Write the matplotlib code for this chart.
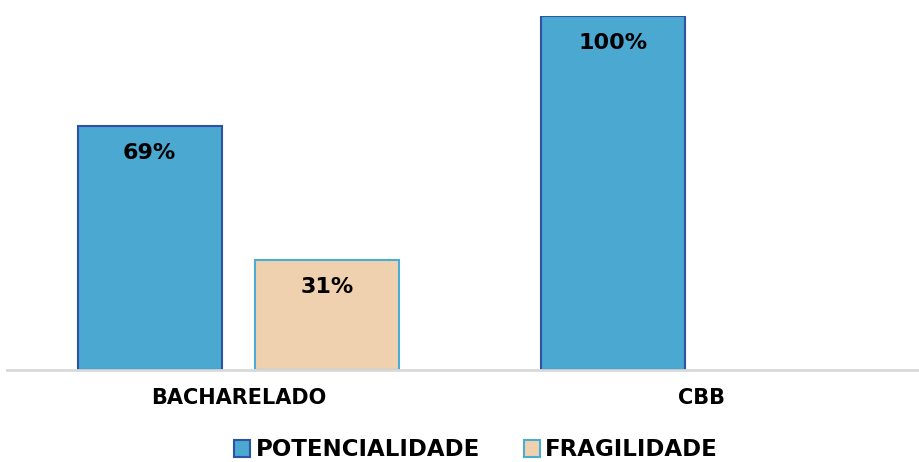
import matplotlib
matplotlib.use("Agg")
import matplotlib.pyplot as plt
import numpy as np

# dados
categorias = ["BACHARELADO", "CBB"]
potencialidade = [0.69, 1.00]
fragilidade = [0.31, 0.0]
series = ["POTENCIALIDADE", "FRAGILIDADE"]

plt.rcParams['font.family'] = ['DejaVu Sans']

fig = plt.figure(figsize=(9.2, 4.62), dpi=100)
ax = fig.add_axes([7 / 920, 1 - 370 / 462, 913 / 920, (370 - 16) / 462])

x = np.arange(len(categorias))
w = 0.311
off = 0.1917

azul = '#4AA8D1'
bege = '#F0D1AF'

b1 = ax.bar(x - off, potencialidade, w, color=azul, edgecolor='#2E52A6',
            linewidth=1.5, label=series[0])
b2 = ax.bar(x + off, fragilidade, w, color=bege, edgecolor='#4BACD6',
            linewidth=1.5, label=series[1])

# rotulos dentro das barras
for barras, vals in [(b1, potencialidade), (b2, fragilidade)]:
    for r, v in zip(barras, vals):
        if v <= 0:
            r.set_visible(False)  # barra vazia nao aparece
            continue
        ax.annotate(f'{v * 100:.0f}%', (r.get_x() + r.get_width() / 2, v),
                    xytext=(0, -19.5), textcoords='offset points',
                    ha='center', va='center', fontsize=16, fontweight='bold',
                    color='black')

ax.set_xlim(-0.5, -0.5 + 913 / 463)
ax.set_ylim(0, 1)
ax.set_xticks(x)
ax.set_xticklabels(categorias, fontsize=15, fontweight='bold')
ax.tick_params(axis='x', length=0, pad=13)
ax.set_yticks([])
for s in ['top', 'right', 'left']:
    ax.spines[s].set_visible(False)
ax.spines['bottom'].set_color('#D9D9D9')
ax.spines['bottom'].set_linewidth(2)

# legenda
fig.legend(handles=[b1, b2], labels=series, loc='center', ncol=2,
           bbox_to_anchor=(476 / 920, 1 - 450 / 462), frameon=False,
           prop={'size': 16.5, 'weight': 'bold'}, handlelength=0.7,
           handleheight=0.7, handletextpad=0.25, columnspacing=1.9)

fig.savefig('out.png', dpi=100)
